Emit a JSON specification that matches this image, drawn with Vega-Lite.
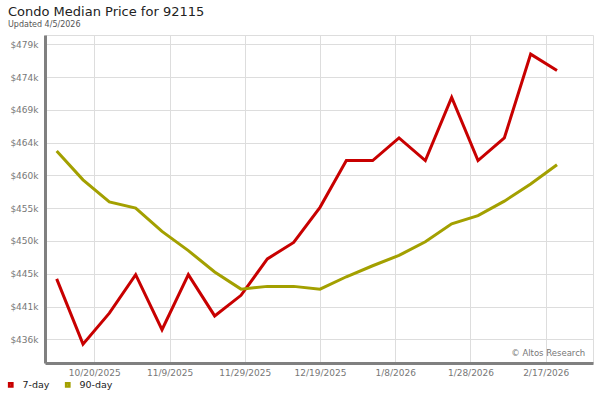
{
  "$schema": "https://vega.github.io/schema/vega-lite/v6.json",
  "width": 548,
  "height": 328,
  "autosize": {"type": "none"},
  "padding": {"left": 45, "top": 35, "right": 7, "bottom": 37},
  "background": "white",
  "title": {
    "text": "Condo Median Price for 92115",
    "subtitle": "Updated 4/5/2026",
    "anchor": "start",
    "frame": "group",
    "dx": -37,
    "offset": 6,
    "font": "DejaVu Sans",
    "fontSize": 13,
    "fontWeight": "normal",
    "color": "#222222",
    "subtitleFont": "DejaVu Sans",
    "subtitleFontSize": 8,
    "subtitleColor": "#555555",
    "subtitlePadding": 2
  },
  "config": {
    "view": {"stroke": "#dddddd", "strokeWidth": 1},
    "font": "DejaVu Sans"
  },
  "data": {
    "values": [
      {"date": "2025-10-10", "series": "7-day", "price": 444600},
      {"date": "2025-10-17", "series": "7-day", "price": 435100},
      {"date": "2025-10-24", "series": "7-day", "price": 439600},
      {"date": "2025-10-31", "series": "7-day", "price": 445200},
      {"date": "2025-11-07", "series": "7-day", "price": 437200},
      {"date": "2025-11-14", "series": "7-day", "price": 445200},
      {"date": "2025-11-21", "series": "7-day", "price": 439200},
      {"date": "2025-11-28", "series": "7-day", "price": 442200},
      {"date": "2025-12-05", "series": "7-day", "price": 447500},
      {"date": "2025-12-12", "series": "7-day", "price": 449900},
      {"date": "2025-12-19", "series": "7-day", "price": 455000},
      {"date": "2025-12-26", "series": "7-day", "price": 461800},
      {"date": "2026-01-02", "series": "7-day", "price": 461800},
      {"date": "2026-01-09", "series": "7-day", "price": 465100},
      {"date": "2026-01-16", "series": "7-day", "price": 461800},
      {"date": "2026-01-23", "series": "7-day", "price": 471000},
      {"date": "2026-01-30", "series": "7-day", "price": 461800},
      {"date": "2026-02-06", "series": "7-day", "price": 465100},
      {"date": "2026-02-13", "series": "7-day", "price": 477300},
      {"date": "2026-02-20", "series": "7-day", "price": 474900},
      {"date": "2025-10-10", "series": "90-day", "price": 463200},
      {"date": "2025-10-17", "series": "90-day", "price": 459000},
      {"date": "2025-10-24", "series": "90-day", "price": 455800},
      {"date": "2025-10-31", "series": "90-day", "price": 454900},
      {"date": "2025-11-07", "series": "90-day", "price": 451500},
      {"date": "2025-11-14", "series": "90-day", "price": 448700},
      {"date": "2025-11-21", "series": "90-day", "price": 445600},
      {"date": "2025-11-28", "series": "90-day", "price": 443100},
      {"date": "2025-12-05", "series": "90-day", "price": 443500},
      {"date": "2025-12-12", "series": "90-day", "price": 443500},
      {"date": "2025-12-19", "series": "90-day", "price": 443100},
      {"date": "2025-12-26", "series": "90-day", "price": 444900},
      {"date": "2026-01-02", "series": "90-day", "price": 446500},
      {"date": "2026-01-09", "series": "90-day", "price": 448000},
      {"date": "2026-01-16", "series": "90-day", "price": 450000},
      {"date": "2026-01-23", "series": "90-day", "price": 452600},
      {"date": "2026-01-30", "series": "90-day", "price": 453800},
      {"date": "2026-02-06", "series": "90-day", "price": 455900},
      {"date": "2026-02-13", "series": "90-day", "price": 458400},
      {"date": "2026-02-20", "series": "90-day", "price": 461200}
    ]
  },
  "layer": [
    {
      "mark": {"type": "line", "strokeWidth": 3, "strokeJoin": "miter", "clip": true},
      "encoding": {
        "x": {
          "field": "date",
          "type": "temporal",
          "scale": {
            "type": "utc",
            "domain": [
              {"year": 2025, "month": 10, "date": 6, "hours": 21, "minutes": 30, "utc": true},
              {"year": 2026, "month": 3, "date": 1, "hours": 13, "minutes": 40, "utc": true}
            ]
          },
          "axis": {
            "title": null,
            "values": [
              {"year": 2025, "month": 10, "date": 20, "utc": true},
              {"year": 2025, "month": 11, "date": 9, "utc": true},
              {"year": 2025, "month": 11, "date": 29, "utc": true},
              {"year": 2025, "month": 12, "date": 19, "utc": true},
              {"year": 2026, "month": 1, "date": 8, "utc": true},
              {"year": 2026, "month": 1, "date": 28, "utc": true},
              {"year": 2026, "month": 2, "date": 17, "utc": true}
            ],
            "tickCount": 20,
            "format": "%-m/%-d/%Y",
            "grid": true,
            "gridColor": "#dddddd",
            "gridWidth": 1,
            "ticks": false,
            "domainColor": "#808080",
            "domainWidth": 3,
            "labelColor": "#777777",
            "labelFont": "DejaVu Sans",
            "labelFontSize": 9,
            "labelPadding": 5,
            "labelFlush": false,
            "labelOverlap": false
          }
        },
        "y": {
          "field": "price",
          "type": "quantitative",
          "scale": {"domain": [432350, 480080], "nice": false, "zero": false},
          "axis": {
            "title": null,
            "values": [435800, 440570, 445340, 450110, 454880, 459650, 464420, 469190, 473960, 478730],
            "tickCount": 20,
            "labelExpr": "'$' + format(datum.value / 1000, '.0f') + 'k'",
            "grid": true,
            "gridColor": "#dddddd",
            "gridWidth": 1,
            "ticks": false,
            "domainColor": "#808080",
            "domainWidth": 3,
            "labelColor": "#777777",
            "labelFont": "DejaVu Sans",
            "labelFontSize": 9,
            "labelPadding": 7,
            "labelOverlap": false,
            "labelFlush": false
          }
        },
        "color": {
          "field": "series",
          "type": "nominal",
          "scale": {"domain": ["7-day", "90-day"], "range": ["#c80000", "#a3a000"]},
          "legend": {
            "title": null,
            "orient": "none",
            "direction": "horizontal",
            "legendX": -39,
            "legendY": 345,
            "symbolType": "square",
            "symbolSize": 10,
            "symbolStrokeWidth": 2.6,
            "labelFont": "DejaVu Sans",
            "labelFontSize": 9.5,
            "labelColor": "#222222",
            "columnPadding": 10,
            "labelOffset": 7
          }
        }
      }
    },
    {
      "data": {"values": [{"label": "© Altos Research"}]},
      "mark": {"type": "text", "align": "right", "baseline": "middle", "fontSize": 8.5, "font": "DejaVu Sans", "color": "#777777"},
      "encoding": {
        "x": {"datum": {"year": 2026, "month": 2, "date": 27, "hours": 12, "utc": true}, "type": "temporal"},
        "y": {"datum": 433840, "type": "quantitative"},
        "text": {"field": "label", "type": "nominal"}
      }
    }
  ]
}
